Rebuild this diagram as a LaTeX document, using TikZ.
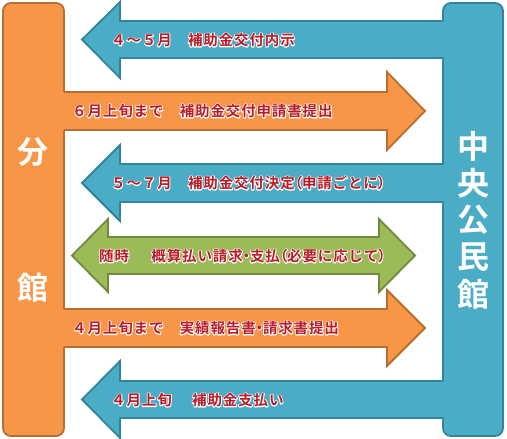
\documentclass[tikz,border=0pt]{standalone}
\usepackage{fontspec}
\newfontfamily\jp{Noto Sans CJK JP Bold}[LetterSpace=6]
\newfontfamily\jpp{Noto Sans CJK JP Bold}[RawFeature=+palt]
\newfontfamily\jpbig{Noto Sans CJK JP Bold}
\definecolor{orfill}{RGB}{247,150,70}
\definecolor{orline}{RGB}{182,110,50}
\definecolor{blfill}{RGB}{75,172,198}
\definecolor{blline}{RGB}{49,133,155}
\definecolor{grfill}{RGB}{155,187,89}
\definecolor{grline}{RGB}{113,137,63}
\definecolor{txtred}{RGB}{185,28,40}
\tikzset{
  bar/.style={line width=1.8pt, rounded corners=8pt},
  edge/.style={line width=1.8pt, line join=miter},
  lbl/.style={anchor=west, inner sep=0pt, text=txtred, font=\jp\fontsize{14.5}{15}\selectfont},
  big/.style={inner sep=0pt, text=white, font=\jpbig\fontsize{31}{32}\selectfont},
  bigr/.style={inner sep=0pt, text=white, font=\jpbig\fontsize{32}{33}\selectfont}
}
\newcommand{\lab}[1]{\makebox[0pt][l]{\special{pdf:literal direct 1 Tr 1.8 w 1 j}\textcolor{white}{#1}\special{pdf:literal direct 0 Tr}}#1}
\newcommand{\pp}[1]{{\jpp\fontsize{14.5}{15}\selectfont #1}}
\begin{document}
\begin{tikzpicture}[x=1pt,y=-1pt]
\useasboundingbox (0,0) rectangle (507,439);
% bars
\filldraw[bar, fill=orfill, draw=orline] (3,3) rectangle (64,436);
\filldraw[bar, fill=blfill, draw=blline] (443,3) rectangle (503,436);
% blue arrow 1
\fill[blfill] (445,21) -- (120,21) -- (120,2) -- (82,39.5) -- (120,78) -- (120,58) -- (445,58) -- cycle;
\draw[edge, blline] (443,21) -- (120,21) -- (120,2) -- (82,39.5) -- (120,78) -- (120,58) -- (443,58);
% orange arrow 1
\fill[orfill] (62,92) -- (387,92) -- (387,72) -- (425,111) -- (387,150) -- (387,130) -- (62,130) -- cycle;
\draw[edge, orline] (64,92) -- (387,92) -- (387,72) -- (425,111) -- (387,150) -- (387,130) -- (64,130);
% blue arrow 2
\fill[blfill] (445,164) -- (120,164) -- (120,145) -- (82,183) -- (120,221) -- (120,202) -- (445,202) -- cycle;
\draw[edge, blline] (443,164) -- (120,164) -- (120,145) -- (82,183) -- (120,221) -- (120,202) -- (443,202);
% green double arrow
\filldraw[edge, fill=grfill, draw=grline] (108,237) -- (379,237) -- (379,219) -- (415,255.5) -- (379,292) -- (379,274) -- (108,274) -- (108,292) -- (72,255.5) -- (108,219) -- cycle;
% orange arrow 2
\fill[orfill] (62,309) -- (387,309) -- (387,290) -- (425,328) -- (387,366) -- (387,347) -- (62,347) -- cycle;
\draw[edge, orline] (64,309) -- (387,309) -- (387,290) -- (425,328) -- (387,366) -- (387,347) -- (64,347);
% blue arrow 3
\fill[blfill] (445,381) -- (120,381) -- (120,361) -- (82,399.5) -- (120,438) -- (120,418) -- (445,418) -- cycle;
\draw[edge, blline] (443,381) -- (120,381) -- (120,361) -- (82,399.5) -- (120,438) -- (120,418) -- (443,418);
% labels
\node[lbl] (l1) at (111,40) {\lab{４～５月　補助金交付内示}};
\node[lbl] (l2) at (72,111) {\lab{６月上旬まで　補助金交付申請書提出}};
\node[lbl] (l3) at (111,183) {\lab{５～７月　補助金交付決定\pp{（}申請ごとに\pp{）}}};
\node[lbl] (l4) at (99,256) {\lab{随時　\hspace{7pt}概算払い請求\pp{・}支払\pp{（}必要に応じて\pp{）}}};
\node[lbl] (l5) at (72,328) {\lab{４月上旬まで　実績報告書\pp{・}請求書提出}};
\node[lbl] (l6) at (111,400) {\lab{４月上旬　\hspace{5pt}補助金支払い}};
% bar texts
\node[big] (b1) at (33,152) {分};
\node[big] (b2) at (33,288) {館};
\node[bigr] (c1) at (473,146) {中};
\node[bigr] (c2) at (473,183) {央};
\node[bigr] (c3) at (473,220) {公};
\node[bigr] (c4) at (473,257) {民};
\node[bigr] (c5) at (473,294) {館};
\end{tikzpicture}
\end{document}
